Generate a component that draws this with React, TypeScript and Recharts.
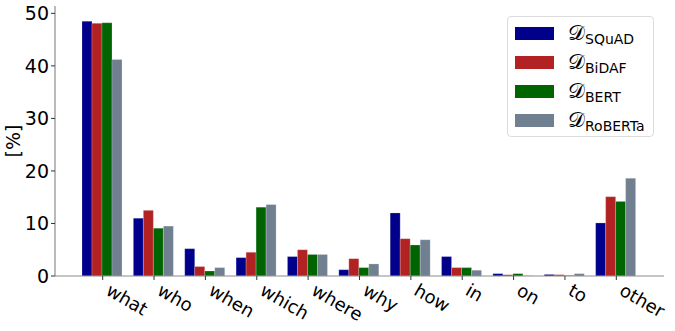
import React from 'react';
import { BarChart, Bar, XAxis, YAxis, Legend } from 'recharts';

const categories = ['what', 'who', 'when', 'which', 'where', 'why', 'how', 'in', 'on', 'to', 'other'];
const squad = [48.5, 11.0, 5.2, 3.5, 3.7, 1.2, 12.0, 3.7, 0.45, 0.3, 10.1];
const bidaf = [48.1, 12.5, 1.8, 4.5, 5.0, 3.3, 7.1, 1.6, 0.25, 0.25, 15.1];
const bert = [48.2, 9.1, 0.95, 13.1, 4.1, 1.6, 5.9, 1.6, 0.45, 0.1, 14.2];
const roberta = [41.2, 9.5, 1.6, 13.6, 4.1, 2.3, 6.9, 1.1, 0.05, 0.45, 18.6];
const yTicks = [0, 10, 20, 30, 40, 50];

const series = [
  { key: 'squad', sub: 'SQuAD', color: '#00008b' },
  { key: 'bidaf', sub: 'BiDAF', color: '#b22222' },
  { key: 'bert', sub: 'BERT', color: '#006400' },
  { key: 'roberta', sub: 'RoBERTa', color: '#708090' },
];

const data = categories.map((c, i) => ({
  name: c,
  squad: squad[i],
  bidaf: bidaf[i],
  bert: bert[i],
  roberta: roberta[i],
}));

const FONT = '"DejaVu Sans", sans-serif';
const SPINE = '#8c8c8c';

const XTick = (props: any) => {
  const { x, y, payload } = props;
  const x0 = x + 2;
  const y0 = y + 12;
  return (
    <text
      x={x0}
      y={y0}
      transform={`rotate(30, ${x0}, ${y0})`}
      textAnchor="start"
      fontSize={18}
      fontFamily={FONT}
      fill="#000"
    >
      {payload.value}
    </text>
  );
};

const renderLegend = () => (
  <div
    style={{
      width: 147,
      height: 121,
      border: '1px solid #dcdcdc',
      borderRadius: 4,
      background: 'rgba(255,255,255,0.85)',
      boxSizing: 'border-box',
      padding: '2px 0 0 7px',
      fontFamily: FONT,
    }}
  >
    {series.map((s) => (
      <div key={s.key} style={{ display: 'flex', alignItems: 'center', height: 29 }}>
        <div style={{ width: 39, height: 13, background: s.color, marginRight: 14 }} />
        <span style={{ fontSize: 21, fontFamily: '"DejaVu Serif", serif', lineHeight: '22px' }}>
          {'\u{1D49F}'}
          <span style={{ fontSize: 14, fontFamily: FONT, position: 'relative', top: 4 }}>{s.sub}</span>
        </span>
      </div>
    ))}
  </div>
);

export default function App() {
  return (
    <div style={{ position: 'absolute', left: 0, top: 0, width: 675, height: 331, background: '#fff' }}>
      <BarChart
        width={675}
        height={331}
        data={data}
        margin={{ top: 6, right: 11, bottom: 0, left: 0 }}
        barCategoryGap={5}
        barGap={0}
      >
        <XAxis
          dataKey="name"
          height={55}
          padding={{ left: 22, right: 22 }}
          axisLine={{ stroke: SPINE, strokeWidth: 1.2 }}
          tickLine={{ stroke: '#333' }}
          tickSize={4}
          tick={<XTick />}
          interval={0}
        />
        <XAxis xAxisId="top" orientation="top" height={0} tick={false} tickLine={false} axisLine={{ stroke: SPINE, strokeWidth: 1.2 }} />
        <YAxis
          width={55}
          domain={[0, 51.4]}
          ticks={yTicks}
          allowDataOverflow
          axisLine={{ stroke: SPINE, strokeWidth: 1.2 }}
          tickLine={{ stroke: '#333' }}
          tickSize={4}
          tickMargin={2}
          tick={{ fontSize: 19, fontFamily: FONT, fill: '#000' }}
          label={{ value: '[%]', angle: -90, position: 'insideLeft', offset: 0, dx: 13, style: { fontSize: 19, fontFamily: FONT, fill: '#000', textAnchor: 'middle' } }}
        />
        <YAxis yAxisId="right" orientation="right" width={0} tick={false} tickLine={false} axisLine={{ stroke: SPINE, strokeWidth: 1.2 }} />
        <Legend
          content={renderLegend}
          layout="vertical"
          align="center"
          verticalAlign="middle"
          wrapperStyle={{ position: 'absolute', left: 507, top: 16, width: 147, height: 121 }}
        />
        {series.map((s) => (
          <Bar
            key={s.key}
            dataKey={s.key}
            fill={s.color}
            stroke="#ffffff"
            strokeOpacity={0.35}
            strokeWidth={0.6}
            isAnimationActive={false}
          />
        ))}
      </BarChart>
    </div>
  );
}
